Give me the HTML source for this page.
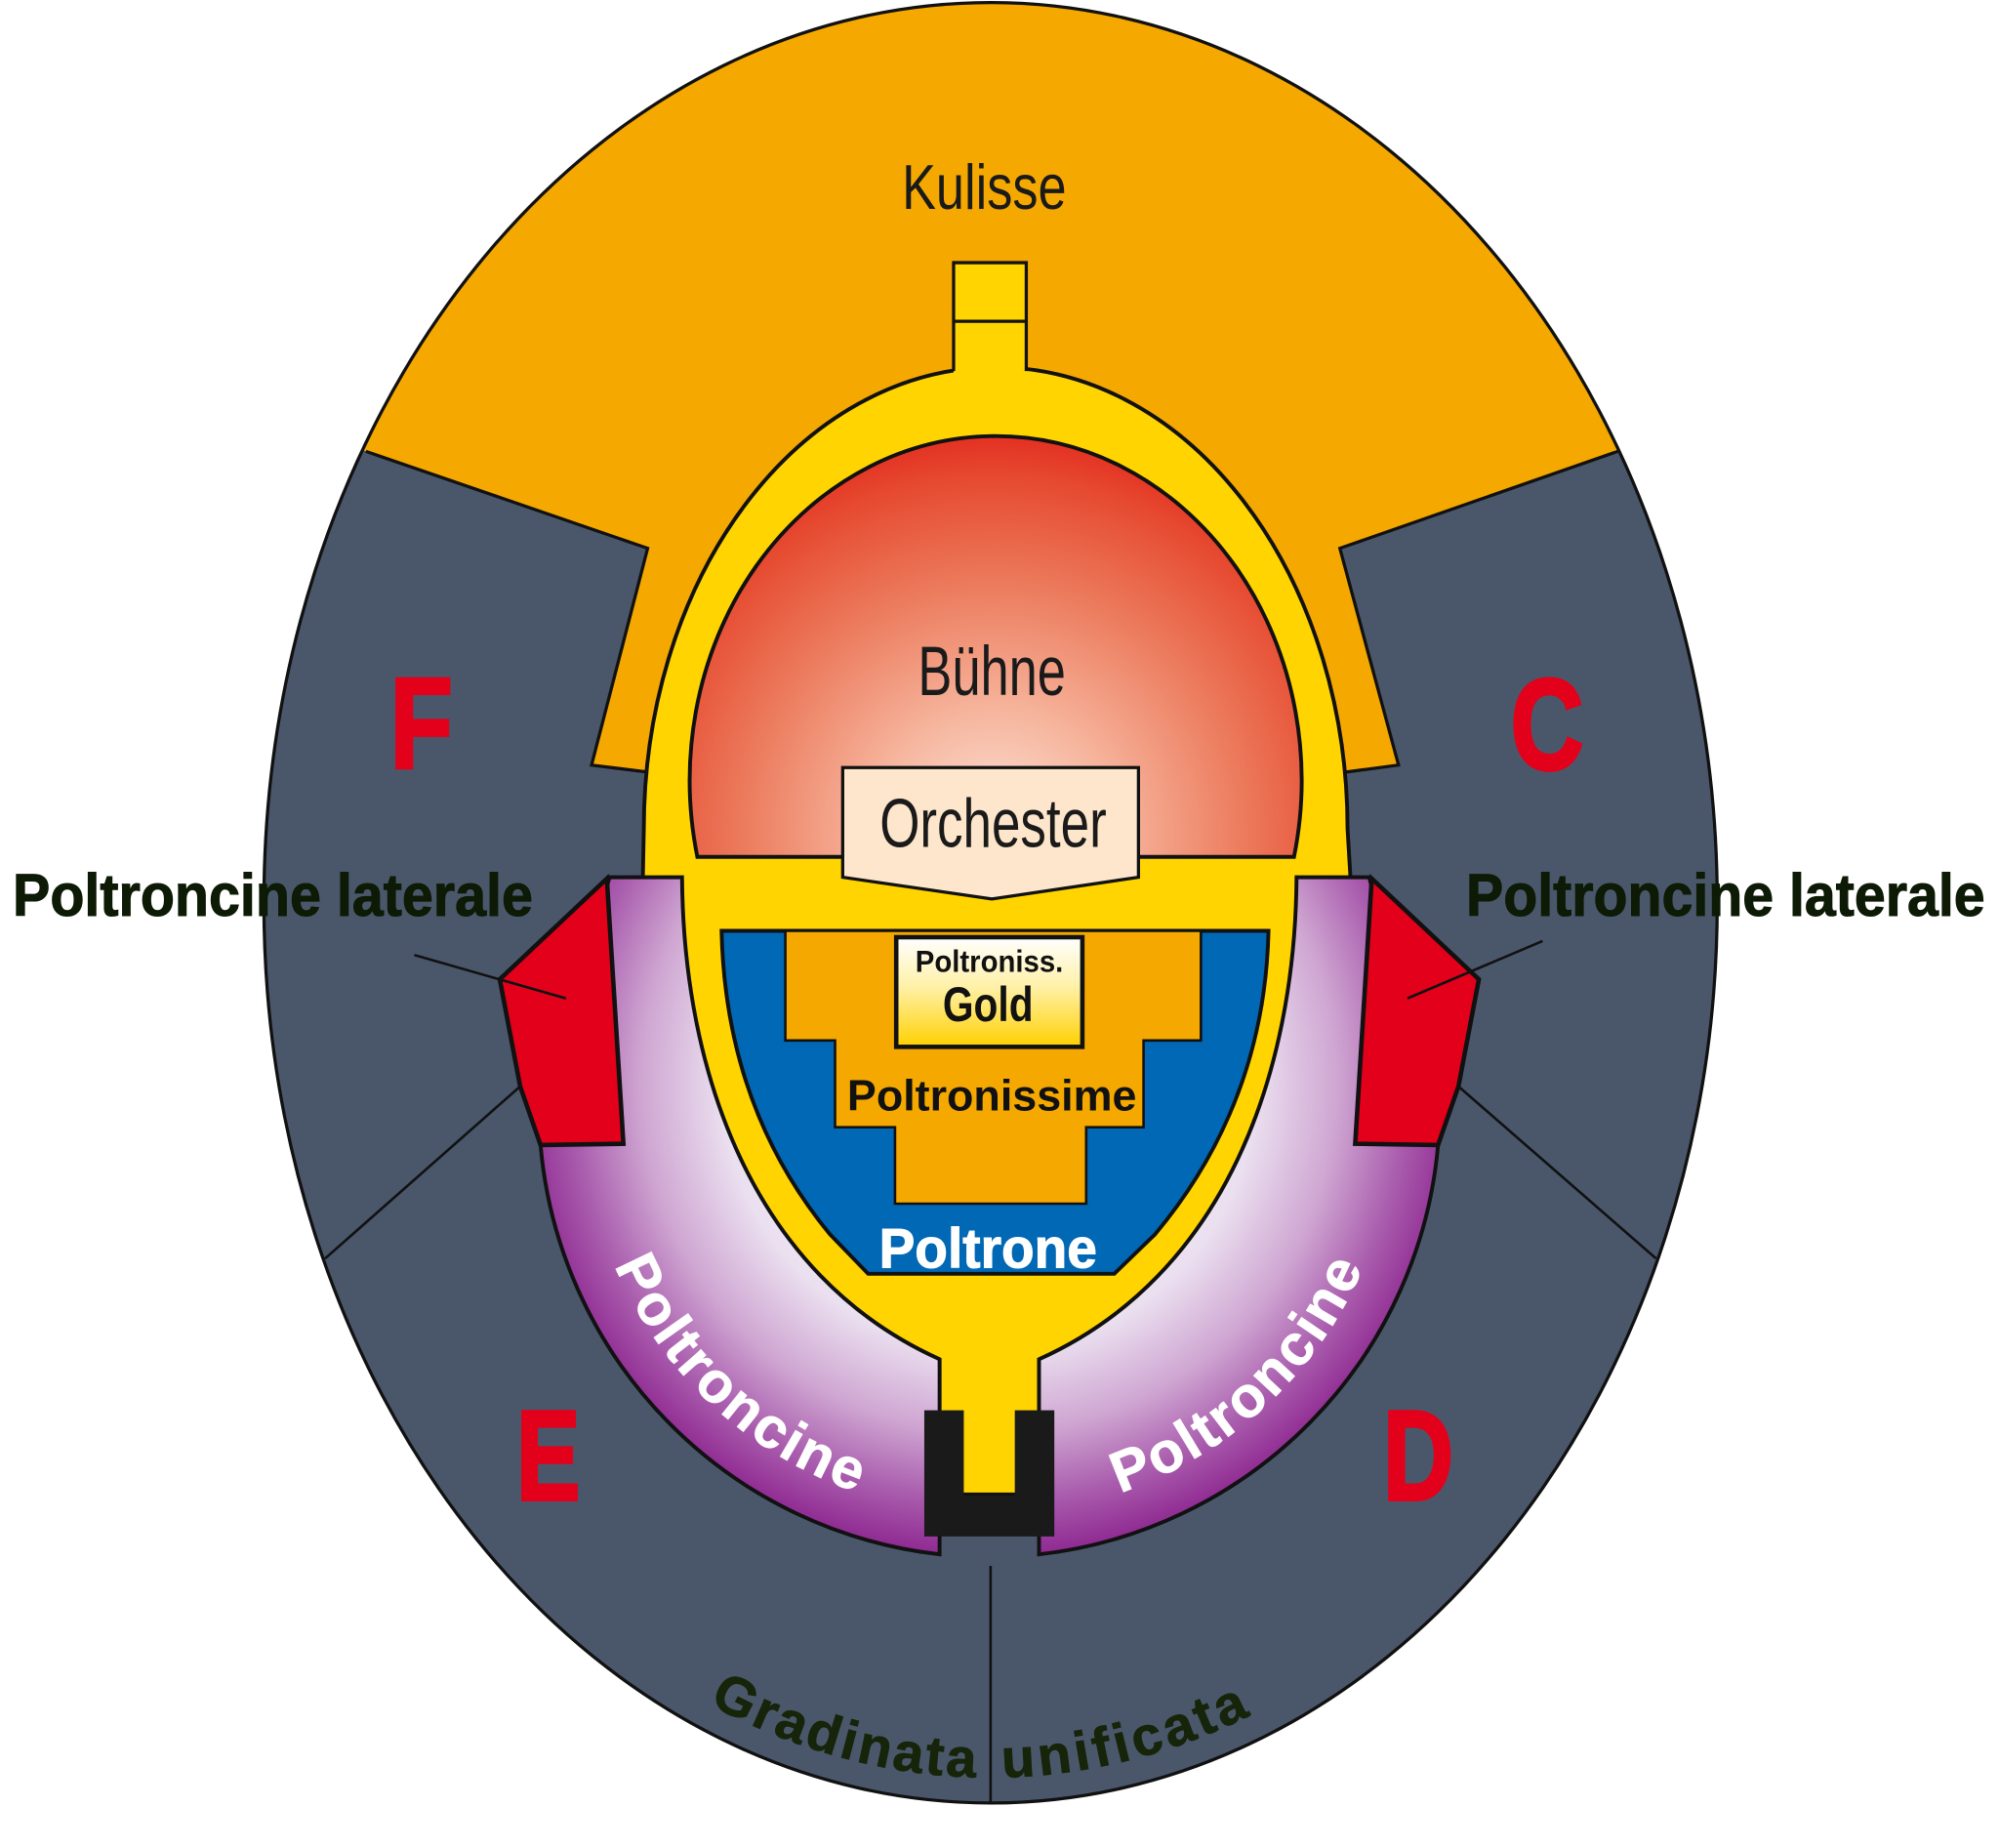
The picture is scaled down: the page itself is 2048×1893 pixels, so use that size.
<!DOCTYPE html>
<html>
<head>
<meta charset="utf-8">
<style>
html,body{margin:0;padding:0;background:#fff;overflow:hidden;}
svg{display:block;}
text{font-family:"Liberation Sans",Arial,sans-serif;}
</style>
</head>
<body>
<svg width="2048" height="1893" viewBox="0 0 1568 1449.3" preserveAspectRatio="none" xmlns="http://www.w3.org/2000/svg">
<defs>
  <clipPath id="ce"><ellipse cx="777" cy="708" rx="570" ry="706"/></clipPath>
  <radialGradient id="rg" gradientUnits="userSpaceOnUse" cx="779" cy="655" r="330">
    <stop offset="0" stop-color="#fbe6dc"/>
    <stop offset="0.3" stop-color="#f6b49c"/>
    <stop offset="0.6" stop-color="#ec7a5c"/>
    <stop offset="0.85" stop-color="#e64a30"/>
    <stop offset="1" stop-color="#e2231a"/>
  </radialGradient>
  <radialGradient id="pgr" gradientUnits="userSpaceOnUse" cx="777" cy="850" r="380">
    <stop offset="0" stop-color="#ffffff"/>
    <stop offset="0.55" stop-color="#ebe0f0"/>
    <stop offset="0.72" stop-color="#cfa6d2"/>
    <stop offset="0.86" stop-color="#aa5eae"/>
    <stop offset="1" stop-color="#8a1f8c"/>
  </radialGradient>
  <linearGradient id="gg" x1="0" y1="0" x2="0" y2="1">
    <stop offset="0" stop-color="#ffffff"/>
    <stop offset="0.45" stop-color="#fff1a8"/>
    <stop offset="1" stop-color="#ffd000"/>
  </linearGradient>
  <path id="pl" d="M464,934.5 A320,320 0 0 0 732.5,1184.9"/>
  <path id="pr" d="M819.5,1184.9 A320,320 0 0 0 1088,934.5"/>
  <path id="pb" d="M388.1,1193.1 A550,686 0 0 0 1165.9,1193.1"/>
</defs>

<!-- outer dark ellipse -->
<ellipse cx="777" cy="708" rx="570" ry="706" fill="#4a576b"/>
<!-- Kulisse orange -->
<polygon clip-path="url(#ce)" fill="#f5a800" points="0,0 1568,0 1568,250 1051,430 1097,600 1054,605 510,605 464,600 508,430 0,255"/>
<polyline points="287,354 508,430 464,600 512,606" fill="none" stroke="#111" stroke-width="2.5"/>
<polyline points="1269,354 1051,430 1097,600 1052,606" fill="none" stroke="#111" stroke-width="2.5"/>

<!-- yellow body -->
<path d="M505,650 A276,362 0 0 1 1057,650 L1060,700 L1017,700 C1016,840 962,1000 815,1066 L815,1172 L737,1172 L737,1066 C590,1000 536,840 535,700 L504,700 Z" fill="#ffd400" stroke="#111" stroke-width="3"/>
<!-- top stub -->
<rect x="748" y="206" width="57" height="92" fill="#ffd400"/>
<path d="M748,291 L748,206 L805,206 L805,291 M748,252 L805,252" fill="none" stroke="#111" stroke-width="2.5"/>

<!-- red stage -->
<path d="M547,672 A240,270 0 1 1 1015,672 Z" fill="url(#rg)" stroke="#111" stroke-width="3"/>
<!-- Orchester -->
<polygon points="661,602 893,602 893,688 778,705 661,688" fill="#fde6cb" stroke="#111" stroke-width="2.5"/>

<!-- blue Poltrone -->
<path d="M566,730 L995,730 C993,820 963,900 906,968 L874,999 L681,999 L651,968 C595,900 568,820 566,730 Z" fill="#0068b4" stroke="#111" stroke-width="3"/>
<!-- orange steps -->
<polygon points="616,730 942,730 942,816 897,816 897,884 852,884 852,944 702,944 702,884 655,884 655,816 616,816" fill="#f5a800" stroke="#111" stroke-width="2"/>
<!-- gold box -->
<rect x="703" y="735" width="146" height="86" fill="url(#gg)" stroke="#111" stroke-width="3.5"/>

<!-- purple bands -->
<path d="M478,688 L535,688 C536,840 590,1000 737,1066 L737,1219 A354,354 0 0 1 424,898 L478,688 Z" fill="url(#pgr)" stroke="#111" stroke-width="3"/>
<path transform="matrix(-1,0,0,1,1552,0)" d="M478,688 L535,688 C536,840 590,1000 737,1066 L737,1219 A354,354 0 0 1 424,898 L478,688 Z" fill="url(#pgr)" stroke="#111" stroke-width="3"/>

<!-- bottom U -->
<path d="M725,1106 L756,1106 L756,1173 L796,1173 L796,1106 L827,1106 L827,1205 L725,1205 Z" fill="#1a1a1a"/>

<!-- red laterale boxes -->
<polygon points="392,768 476,689 489,897 424,898 408,852" fill="#e2001a" stroke="#111" stroke-width="3.5" stroke-linejoin="miter"/>
<polygon points="1160,768 1076,689 1063,897 1128,898 1144,852" fill="#e2001a" stroke="#111" stroke-width="3.5" stroke-linejoin="miter"/>

<!-- leader & separator lines -->
<line x1="325" y1="749" x2="444" y2="783" stroke="#111" stroke-width="2"/>
<line x1="1210" y1="738" x2="1104" y2="783" stroke="#111" stroke-width="2"/>
<line x1="408" y1="852" x2="255" y2="987" stroke="#111" stroke-width="2"/>
<line x1="1144" y1="852" x2="1299" y2="987" stroke="#111" stroke-width="2"/>
<line x1="777" y1="1228" x2="777" y2="1414" stroke="#111" stroke-width="2"/>

<!-- outer outline -->
<ellipse cx="777" cy="708" rx="570" ry="706" fill="none" stroke="#111" stroke-width="2.5"/>

<!-- labels -->
<text x="772" y="164" text-anchor="middle" font-size="50" fill="#1a1a1a" textLength="129" lengthAdjust="spacingAndGlyphs">Kulisse</text>
<text x="778" y="545" text-anchor="middle" font-size="55" fill="#1a1a1a" textLength="116" lengthAdjust="spacingAndGlyphs">Bühne</text>
<text x="779" y="664" text-anchor="middle" font-size="54" fill="#1a1a1a" textLength="178" lengthAdjust="spacingAndGlyphs">Orchester</text>
<text x="776" y="762" text-anchor="middle" font-size="24" font-weight="bold" fill="#111" textLength="116" lengthAdjust="spacingAndGlyphs">Poltroniss.</text>
<text x="775" y="801" text-anchor="middle" font-size="38" font-weight="bold" fill="#111" textLength="71" lengthAdjust="spacingAndGlyphs">Gold</text>
<text x="778" y="871" text-anchor="middle" font-size="34" font-weight="bold" fill="#111" textLength="227" lengthAdjust="spacingAndGlyphs">Poltronissime</text>
<text x="775" y="994" text-anchor="middle" font-size="44" font-weight="bold" fill="#ffffff" stroke="#ffffff" stroke-width="0.8" textLength="171" lengthAdjust="spacingAndGlyphs">Poltrone</text>

<text x="10" y="718" font-size="47" font-weight="bold" fill="#0d1a05" stroke="#0d1a05" stroke-width="0.8" textLength="408" lengthAdjust="spacingAndGlyphs">Poltroncine laterale</text>
<text x="1150" y="718" font-size="47" font-weight="bold" fill="#0d1a05" stroke="#0d1a05" stroke-width="0.8" textLength="407" lengthAdjust="spacingAndGlyphs">Poltroncine laterale</text>

<text x="306" y="602" font-size="101" font-weight="bold" fill="#e3001b" stroke="#e3001b" stroke-width="3" textLength="49" lengthAdjust="spacingAndGlyphs">F</text>
<text x="1185" y="603" font-size="101" font-weight="bold" fill="#e3001b" stroke="#e3001b" stroke-width="3" textLength="57" lengthAdjust="spacingAndGlyphs">C</text>
<text x="405" y="1176" font-size="100" font-weight="bold" fill="#e3001b" stroke="#e3001b" stroke-width="3" textLength="50" lengthAdjust="spacingAndGlyphs">E</text>
<text x="1085" y="1176" font-size="100" font-weight="bold" fill="#e3001b" stroke="#e3001b" stroke-width="3" textLength="55" lengthAdjust="spacingAndGlyphs">D</text>

<text font-size="45" font-weight="bold" fill="#ffffff" stroke="#ffffff" stroke-width="0.6" letter-spacing="2"><textPath href="#pl" startOffset="50%" text-anchor="middle">Poltroncine</textPath></text>
<text font-size="45" font-weight="bold" fill="#ffffff" stroke="#ffffff" stroke-width="0.6" letter-spacing="2"><textPath href="#pr" startOffset="50%" text-anchor="middle">Poltroncine</textPath></text>

<text font-size="43" font-weight="bold" fill="#16240a" stroke="#16240a" stroke-width="0.6" letter-spacing="2.3"><textPath href="#pb" startOffset="222">Gradinata</textPath></text>
<text font-size="43" font-weight="bold" fill="#16240a" stroke="#16240a" stroke-width="0.6" letter-spacing="3.2"><textPath href="#pb" startOffset="462">unificata</textPath></text>
</svg>
</body>
</html>
